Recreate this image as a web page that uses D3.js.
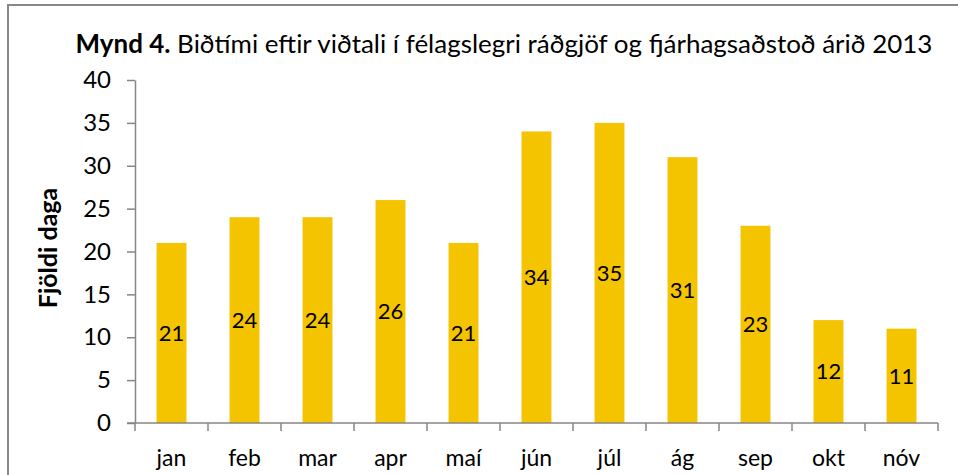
<!DOCTYPE html>
<html>
<head>
<meta charset="utf-8">
<script src="https://cdn.jsdelivr.net/npm/d3@7"></script>
<style>
  body { margin: 0; background: #fff; }
  svg text { font-family: Lato, "Open Sans", sans-serif; fill: #000; }
</style>
</head>
<body>
<svg id="chart" width="958" height="475"></svg>
<script>
// months and waiting days
var months = ["jan", "feb", "mar", "apr", "maí", "jún", "júl", "ág", "sep", "okt", "nóv"];
var days = [21, 24, 24, 26, 21, 34, 35, 31, 23, 12, 11];
var yTicks = [0, 5, 10, 15, 20, 25, 30, 35, 40];

var svg = d3.select("#chart");
var axisColor = "#868686";

// outer frame
svg.append("rect")
	.attr("x", 8).attr("y", 5)
	.attr("width", 960).attr("height", 480)
	.attr("fill", "none")
	.attr("stroke", "#878787")
	.attr("stroke-width", 2);

var plotL = 135, plotR = 938, plotT = 80, plotB = 423;

var x = d3.scaleBand().domain(months).range([plotL, plotR]).paddingInner(0.59).paddingOuter(0.295);
var xTick = d3.scaleBand().domain(months).range([plotL, plotR]);
var y = d3.scaleLinear().domain([0, 40]).range([plotB, plotT]);

// title, sized to fit the reference width
var title = svg.append("text")
	.attr("x", 504).attr("y", 53)
	.attr("text-anchor", "middle")
	.style("font-size", "21px");
title.append("tspan").attr("font-weight", "bold").text("Mynd 4.");
title.append("tspan").text(" Biðtími eftir viðtali í félagslegri ráðgjöf og fjárhagsaðstoð árið 2013");
var tw = title.node().getComputedTextLength();
title.style("font-size", (21 * 857 / tw) + "px");

// y axis title
svg.append("text")
	.attr("transform", "translate(57,248) rotate(-90)")
	.attr("text-anchor", "middle")
	.attr("font-weight", "bold")
	.style("font-size", "25px")
	.text("Fjöldi daga");

// bars
svg.selectAll(".bar")
	.data(days)
	.enter()
	.append("rect")
	.attr("class", "bar")
	.attr("x", function(d, i){ return x(months[i]); })
	.attr("width", x.bandwidth())
	.attr("y", function(d){ return y(d); })
	.attr("height", function(d){ return y(0) - y(d); })
	.attr("fill", "#F4C400");

// value labels in the middle of the bars
svg.selectAll(".val")
	.data(days)
	.enter()
	.append("text")
	.attr("class", "val")
	.attr("x", function(d, i){ return x(months[i]) + x.bandwidth() / 2; })
	.attr("y", function(d){ return (y(d) + y(0)) / 2; })
	.attr("dy", "0.36em")
	.attr("text-anchor", "middle")
	.style("font-size", "22px")
	.text(function(d){ return d; });

// y axis
var yAxis = svg.append("g")
	.attr("transform", "translate(" + plotL + ",0)")
	.call(d3.axisLeft(y).tickValues(yTicks).tickSize(8).tickPadding(16).tickSizeOuter(0));
yAxis.select(".domain").attr("stroke", axisColor).attr("stroke-width", 1.5);
yAxis.selectAll(".tick line").attr("stroke", axisColor).attr("stroke-width", 1.5);
yAxis.selectAll(".tick text")
	.attr("font-family", null)
	.attr("font-size", null)
	.style("font-size", "24px")
	.attr("fill", "#000");

// x axis: ticks on category boundaries
var xAxis = svg.append("g");
xAxis.append("line")
	.attr("x1", plotL - 8).attr("x2", plotR)
	.attr("y1", plotB).attr("y2", plotB)
	.attr("stroke", axisColor).attr("stroke-width", 1.5);
var bounds = months.map(function(m){ return xTick(m); }).concat([plotR]);
xAxis.selectAll(".xt")
	.data(bounds)
	.enter()
	.append("line")
	.attr("x1", function(d){ return d; }).attr("x2", function(d){ return d; })
	.attr("y1", plotB).attr("y2", plotB + 8)
	.attr("stroke", axisColor).attr("stroke-width", 1.5);
xAxis.selectAll(".xl")
	.data(months)
	.enter()
	.append("text")
	.attr("x", function(d){ return xTick(d) + xTick.bandwidth() / 2; })
	.attr("y", 466)
	.attr("text-anchor", "middle")
	.style("font-size", "23px")
	.text(function(d){ return d; });
</script>
</body>
</html>
